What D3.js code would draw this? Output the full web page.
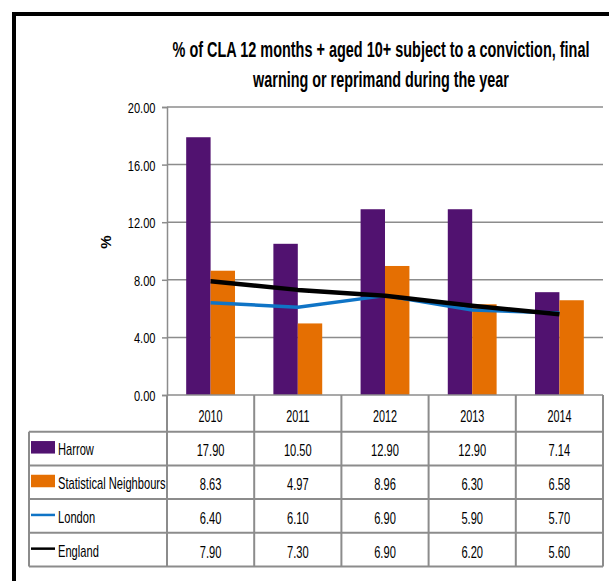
<!DOCTYPE html>
<html><head><meta charset="utf-8">
<script src="https://cdn.jsdelivr.net/npm/d3@7"></script>
<style>
html,body{margin:0;padding:0;background:#fff;}
svg{display:block;}
text{font-family:"Liberation Sans",Arial,sans-serif;fill:#000;}
</style></head>
<body><svg id="chart" width="609" height="581"></svg>
<script>
const years = ["2010","2011","2012","2013","2014"];
const harrow = [17.90,10.50,12.90,12.90,7.14];
const statNeighbours = [8.63,4.97,8.96,6.30,6.58];
const london = [6.40,6.10,6.90,5.90,5.70];
const england = [7.90,7.30,6.90,6.20,5.60];
const yTicks = [0,4,8,12,16,20];
const titleLines = ["% of CLA 12 months + aged 10+ subject to a conviction, final","warning or reprimand during the year"];
const yAxisLabel = "%";

const colors = {harrow:"#511270", sn:"#e56f02", london:"#0f74c6", england:"#000000"};
const series = [
  {name:"Harrow", values:harrow, type:"bar", color:colors.harrow},
  {name:"Statistical Neighbours", values:statNeighbours, type:"bar", color:colors.sn},
  {name:"London", values:london, type:"line", color:colors.london, width:3.5},
  {name:"England", values:england, type:"line", color:colors.england, width:4.5}
];

const SX = 0.655;   // narrow look for table text
const SXT = 0.74;   // narrow look for tick labels
const svg = d3.select("#chart");
svg.append("rect").attr("x",14).attr("y",14).attr("width",620).attr("height",620)
  .attr("fill","none").attr("stroke","#000").attr("stroke-width",4);

function narrowText(g, tx, ty, str, size, anchor){
  return g.append("text").attr("transform",`translate(${tx},${ty}) scale(${SX},1)`)
    .attr("text-anchor",anchor||"start").attr("dominant-baseline","central")
    .style("font-size",size+"px").text(str);
}

const pLeft=167, pRight=603, pTop=107, pBottom=395;
const x = d3.scaleBand().domain(years).range([pLeft,pRight]).padding(0);
const y = d3.scaleLinear().domain([0,20]).range([pBottom,pTop]);
const bw = x.bandwidth();
const barSeries = series.filter(s=>s.type==="bar");
const x1 = d3.scaleBand().domain(barSeries.map(s=>s.name)).range([bw*0.22,bw*0.78]).padding(0);

// title (bold, condensed to the reference's widths)
const titleLens = [417, 256];
const titleCx = 381;
titleLines.forEach((l,i)=>{
  const tt = svg.append("text").attr("text-anchor","middle")
    .style("font-weight","bold").style("font-size","22px").text(l);
  const w = tt.node().getComputedTextLength();
  tt.attr("transform",`translate(${titleCx},${57+i*30}) scale(${titleLens[i]/w},1)`);
});

const gridColor="#8c8c8c";
svg.append("g").selectAll("line").data(yTicks.filter(d=>d>0)).join("line")
  .attr("x1",pLeft).attr("x2",pRight).attr("y1",d=>y(d)).attr("y2",d=>y(d))
  .attr("stroke",gridColor).attr("stroke-width",1.5);

const yAxis = d3.axisLeft(y).tickValues(yTicks).tickFormat(d3.format(".2f")).tickSize(5).tickPadding(6);
const ya = svg.append("g").attr("transform",`translate(${pLeft},0)`).call(yAxis);
ya.select(".domain").attr("stroke",gridColor).attr("stroke-width",1.5);
ya.selectAll(".tick line").attr("stroke",gridColor).attr("stroke-width",1.5);
ya.selectAll(".tick text").style("font-size","15px").style("font-family",'"Liberation Sans",Arial,sans-serif')
  .attr("fill","#000").attr("x",-11.5/SXT).attr("dy","0.36em").attr("transform",`scale(${SXT},1)`);

svg.append("text").attr("transform",`translate(105,242) rotate(-90)`).attr("text-anchor","middle")
  .attr("dominant-baseline","central").style("font-weight","bold").style("font-size","15px").text(yAxisLabel);

barSeries.forEach(s=>{
  svg.append("g").selectAll("rect").data(s.values).join("rect")
    .attr("x",(d,i)=>x(years[i])+x1(s.name)).attr("width",x1.bandwidth())
    .attr("y",d=>y(d)).attr("height",d=>y(0)-y(d)).attr("fill",s.color);
});

series.filter(s=>s.type==="line").forEach(s=>{
  const line = d3.line().x((d,i)=>x(years[i])+bw/2).y(d=>y(d));
  svg.append("path").datum(s.values).attr("d",line).attr("fill","none")
    .attr("stroke",s.color).attr("stroke-width",s.width).attr("stroke-linejoin","round");
});

svg.append("line").attr("x1",pLeft).attr("x2",pRight).attr("y1",pBottom).attr("y2",pBottom)
  .attr("stroke",gridColor).attr("stroke-width",1.5);

const tableLeft=29, headerBottom=431.7, rowH=33.7;
const rowTop = i=>headerBottom+i*rowH;
const tableBottom = rowTop(series.length);
const tg = svg.append("g");
const tcol="#8c8c8c";
d3.range(series.length+1).forEach(i=>{
  tg.append("line").attr("x1",tableLeft).attr("x2",pRight).attr("y1",rowTop(i)).attr("y2",rowTop(i))
    .attr("stroke",tcol).attr("stroke-width",2);
});
const vx = years.map(yv=>x(yv)).concat([pRight]);
vx.forEach(v=>{
  tg.append("line").attr("x1",v).attr("x2",v).attr("y1",pBottom).attr("y2",tableBottom)
    .attr("stroke",tcol).attr("stroke-width",2);
});
tg.append("line").attr("x1",tableLeft).attr("x2",tableLeft).attr("y1",headerBottom).attr("y2",tableBottom)
  .attr("stroke",tcol).attr("stroke-width",2);
years.forEach(yr=>narrowText(tg, x(yr)+bw/2, (pBottom+headerBottom)/2+2.5, yr, 16.5, "middle"));
series.forEach((s,si)=>{
  const cy = rowTop(si)+rowH/2;
  if(s.type==="bar"){
    tg.append("rect").attr("x",31).attr("y",cy-7.5).attr("width",24).attr("height",12.5).attr("fill",s.color);
  } else {
    tg.append("line").attr("x1",31).attr("x2",55).attr("y1",cy-1).attr("y2",cy-1).attr("stroke",s.color).attr("stroke-width",2.5);
  }
  narrowText(tg, 58, cy+1, s.name, 17, "start");
  s.values.forEach((v,i)=>narrowText(tg, x(years[i])+bw/2, cy+2, d3.format(".2f")(v), 17, "middle"));
});
</script></body></html>
